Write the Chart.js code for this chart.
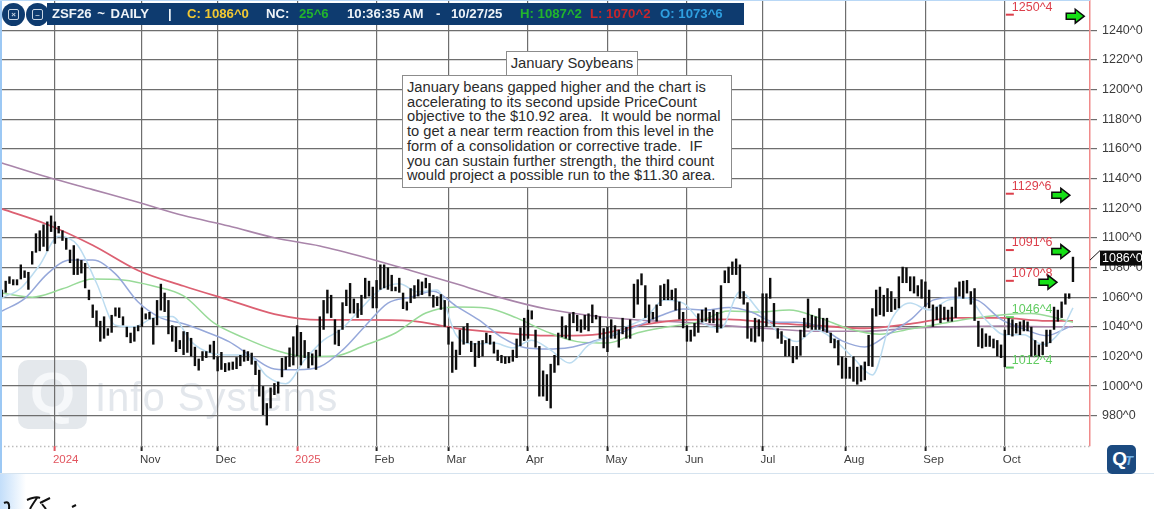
<!DOCTYPE html>
<html>
<head>
<meta charset="utf-8">
<title>January Soybeans</title>
<script src="https://cdn.jsdelivr.net/npm/chart.js@4"></script>
<style>
  html, body { margin: 0; padding: 0; background: #fff; overflow: hidden; }
  body { width: 1154px; height: 509px; position: relative; font-family: "Liberation Sans", Arial, sans-serif; }
  #page { position: absolute; left: 0; top: 0; width: 1154px; height: 509px; filter: blur(0.5px); }
  canvas { position: absolute; left: 0; top: 0; }
  .abs { position: absolute; white-space: nowrap; }
  /* frame of the pasted screenshot */
  #edgeL { left: 0; top: 0; width: 2px; height: 473px; background: #9cc8f4; }
  #edgeT { left: 0; top: 0; width: 1090px; height: 1px; background: #b9d8f6; }
  #edgeB { left: 0; top: 473px; width: 1154px; height: 1px; background: #d5e3ef; }
  #corner { left: 0; top: 474px; width: 26px; height: 35px; background: linear-gradient(90deg, #c3defa, #fff); }
  /* watermark sits behind the canvas */
  #wmBox { left: 18px; top: 360px; width: 69px; height: 69px; border-radius: 10px; background: #e4e8ec; color: #f6f8fa; font: bold 58px/66px "Liberation Sans"; text-align: center; }
  #wmText { left: 95px; top: 374px; font-size: 40px; line-height: 46px; color: #e3e7ec; letter-spacing: 1px; }
  /* header strip */
  #hdr { left: 47px; top: 3px; width: 697px; height: 22px; background: #0e3b6f; }
  #hdr span { position: absolute; top: 0; font: bold 13.2px/22px "Liberation Sans"; color: #eef3f8; white-space: nowrap; }
  .round { top: 3px; width: 23px; height: 23px; border-radius: 50%; background: #0e3b6f; }
  .round i { position: absolute; left: 6px; top: 6px; width: 9px; height: 9px; border: 1px solid #c9d6e4; border-radius: 2px; font: bold 8px/9px "Liberation Sans"; color: #c9d6e4; text-align: center; font-style: normal; }
  /* comment boxes */
  .note { background: #fff; border: 1.5px solid #8c8c8c; color: #2b2b2b; box-sizing: border-box; }
  #noteTitle { left: 506px; top: 51px; width: 132px; height: 25px; font-size: 14.8px; line-height: 22px; text-align: center; }
  #noteBody { left: 402px; top: 75px; width: 330px; height: 113px; font-size: 14.7px; line-height: 14.7px; padding: 4px 0 0 4px; }
  #qtLogo { left: 1107px; top: 445px; width: 29px; height: 29px; border-radius: 5px; background: #1b4a80; color: #fff; font: bold 19px/27px "Liberation Sans"; text-align: center; letter-spacing: -2px; }
  #qtLogo b { color: #6fb2e8; font-size: 13px; font-style: italic; }
</style>
</head>
<body>
<div id="page">
  <div class="abs" id="wmBox">Q</div>
  <div class="abs" id="wmText">Info Systems</div>
  <canvas id="chart" width="1154" height="473"></canvas>

  <div class="abs" id="edgeL"></div>
  <div class="abs" id="edgeT"></div>
  <div class="abs" id="edgeB"></div>
  <div class="abs" id="corner"></div>

  <div class="abs round" style="left:2px"><i>×</i></div>
  <div class="abs round" style="left:26px"><i>–</i></div>
  <div class="abs" id="hdr">
    <span style="left:5px;word-spacing:2px">ZSF26 ~ DAILY</span>
    <span style="left:121px">|</span>
    <span style="left:140px;color:#f2c832">C: 1086^0</span>
    <span style="left:219px">NC:</span>
    <span style="left:252px;color:#22b52c">25^6</span>
    <span style="left:300px">10:36:35 AM</span>
    <span style="left:389px">-</span>
    <span style="left:404px">10/27/25</span>
    <span style="left:473px;color:#22b52c">H: 1087^2</span>
    <span style="left:543px;color:#c8262c">L: 1070^2</span>
    <span style="left:613px;color:#2f9fe0">O: 1073^6</span>
  </div>

  <div class="abs note" id="noteTitle">January Soybeans</div>
  <div class="abs note" id="noteBody">January beans gapped higher and the chart is<br>accelerating to its second upside PriceCount<br>objective to the $10.92 area.&nbsp; It would be normal<br>to get a near term reaction from this level in the<br>form of a consolidation or corrective trade.&nbsp; IF<br>you can sustain further strength, the third count<br>would project a possible run to the $11.30 area.</div>

  <div class="abs" id="qtLogo">Q<b>T</b></div>

  <!-- cropped signature at the bottom edge -->
  <svg class="abs" style="left:0;top:495px" width="90" height="14" fill="none" stroke="#111" stroke-width="2">
    <path d="M4 8 Q10 5 9 14"/><path d="M27 5 Q36 1 40 3 M37 3 Q32 10 30 14 M40 8 Q44 6 50 3 M42 9 L46 14"/><path d="M72 12 L76 10"/>
  </svg>
</div>

<script>
// daily high / low, oldest bar first
const highs = [
  1065,1071,1074,1072,1072,1082,1078,1077,1091,1103,1105,1109,1111,1115,1111,1108,1105,1100,1092,1095,
  1086,1085,1083,1065,1055,1051,1044,1047,1039,1048,1053,1053,1047,1040,1036,1040,1041,1053,1049,1050,
  1046,1058,1069,1063,1058,1041,1040,1031,1037,1036.5,1032.5,1026.5,1018.5,1023.5,1023.5,1028,1030.5,1020,1023,1015.5,
  1016,1016.5,1019.5,1021,1024.5,1023.5,1022.5,1017,1011,1000,988.5,999,1002,1003,1019,1020,1026,1033.5,1041,1036.5,
  1031,1023,1022,1024.5,1047,1058,1065,1061.5,1045,1038,1056.5,1065,1069.5,1059,1056,1061.5,1073,1071,1067,1071.5,
  1082,1082,1080,1075,1067,1073,1063,1057,1066,1068,1072,1070.5,1073,1069.5,1061.5,1060.5,1062,1058,1040,1030,
  1024.5,1038,1040,1042.5,1030.5,1029,1030.5,1031,1036,1034.5,1030,1024.5,1021,1020,1020,1024.5,1032,1039.5,1046,1051.5,
  1051,1038,1027,1010.5,1008,1015,1021,1036,1047,1041,1049,1050,1048,1045,1048,1049,1055,1048,1047,1039,
  1040,1045,1041,1038,1046,1040,1045,1069,1072,1076,1068,1055,1050,1055,1068,1069,1072,1065,1066,1057,
  1050,1041,1038,1042.5,1049,1051.5,1053,1050,1051.5,1050,1068,1078,1080.5,1084,1086,1082,1064,1056.5,1039,1046,
  1045,1062.5,1062.5,1073,1056,1039,1037,1031,1032,1027,1027,1038,1046,1059,1048,1047,1052.5,1046,1046,1036,
  1032,1031,1020,1019,1013,1020,1013,1014,1016.5,1034.5,1052.5,1065,1067,1061.5,1066,1064,1059,1074,1080.5,1080,
  1074,1074,1068,1072,1070.5,1065,1055,1053.5,1055,1053.5,1051.5,1053.5,1066.5,1070.5,1071,1071.5,1064,1066,1044,1039,
  1035.5,1034,1032,1031,1028,1038,1046,1045,1042.5,1043.5,1044.5,1043.5,1040,1031,1028,1030,1038,1038,1053.5,1051.5,
  1057,1062.5,1062.5,1087.2
];
const lows = [
  1060,1063,1069,1068,1068,1072,1073,1065,1082,1090,1091,1094,1091,1104,1096,1103,1098,1092,1083,1075,
  1075,1076,1066,1058,1046,1040,1030,1032,1034,1036,1047,1046,1041,1033,1029,1030,1037,1040,1045,1045,
  1028,1041,1051,1050,1035,1030,1023,1025,1021,1022.5,1020,1013.5,1010.5,1017,1019,1022.5,1018,1010,1011,1009.5,
  1010.5,1011,1011.5,1013.5,1016.5,1017,1014.5,1007.5,993,980.5,973.5,985,994,995,1006,1011,1013,1014,1020,1014,
  1019,1012,1014,1011,1020,1038,1049,1046,1028,1027,1038,1054,1049,1049,1046,1048,1059,1060.5,1052.5,1052.5,
  1065,1066,1065,1064,1064,1063,1052,1051,1056,1059,1060.5,1061.5,1066,1060.5,1053,1054,1051.5,1040,1028,1009,
  1011,1021,1028,1029,1023,1013,1019,1020,1029,1028,1022,1017,1015.5,1015,1015.5,1016.5,1019,1027,1030.5,1032,
  1045,1026,993,993,990,985,1009,1014,1033,1032,1031,1042.5,1037,1036,1038,1037,1042.5,1045,1032,1025.5,
  1023,1032,1032,1026,1035,1032,1032,1046,1055,1068,1046,1042.5,1045,1043.5,1054,1058,1058,1058,1051,1045,
  1039,1030,1030,1033.5,1036,1043,1043.5,1042.5,1042.5,1036,1039,1069.5,1069.5,1075,1075,1059,1055,1032,1030,1029.5,
  1033.5,1030,1040,1059,1040,1032,1028.5,1020,1020,1015.5,1018,1020.5,1033,1039,1038,1038,1038,1037,1036,1029,
  1025.5,1014,1005,1005,1005,1003,1001,1003,1004,1013.5,1013,1047,1048,1047,1050,1050,1051.5,1052.5,1069.5,1069.5,
  1064,1062.5,1060.5,1059,1053.5,1052.5,1040,1044.5,1042.5,1044.5,1043.5,1043.5,1046,1060.5,1059,1062.5,1055,1044,1026.5,1025.5,
  1026.5,1026.5,1025.5,1020,1019,1012.8,1034.5,1033.5,1035.5,1034.5,1037,1037,1020,1020,1020,1021,1026.5,1029,1038,1043.5,
  1046,1055,1059,1070.2
];

// moving averages, one reading every few bars (the line joins the readings)
const slowStep = 12;
const maPurple = [1150.5,1141,1132.5,1124,1115,1108,1100,1094.5,1086.8,1078,1069,1059.5,1052,1047.5,1044.6,1043,1040.6,1038.5,1037,1037,1039,1040,1040.5,1040,1040];
const maRed = [1119.5,1109,1095,1078,1067.5,1058,1048.6,1044.6,1044.6,1044,1039,1036,1034,1034.6,1040.7,1044.6,1045,1042.5,1040.7,1039,1042,1046,1046,1044,1044];
const greenStep = 8;
const maGreen = [1062.8,1060,1065.6,1072.3,1071.6,1067.5,1060.8,1042.6,1032.5,1024.4,1020,1020.3,1027.7,1035.8,1049.3,1053.4,1052.7,1046,1036.6,1030,1029,1036,1040,1043.3,1050.7,1050,1051.3,1046,1038.5,1035,1038.5,1042,1045.6,1048,1049,1045,1043];
const blueStep = 6;
const maBlue = [1050.6,1059,1075.7,1085,1085,1075.7,1056.7,1046,1042,1036.5,1030,1020,1011.6,1011,1013,1024.3,1040.6,1056,1060,1064,1054,1044.6,1033,1026,1025,1026,1030,1034.6,1040.6,1047.4,1052,1051.4,1053,1050,1043.3,1043,1040,1030.5,1026.4,1034.6,1044.6,1058,1060,1057.6,1045,1038.6,1034,1040];
const lightStep = 5;
const maLight = [1059.5,1066,1081.7,1101,1095,1069.5,1041,1040,1046,1047,1030,1022.4,1021,1021,1006.7,1001.5,1017.7,1031,1039,1052.7,1065,1069,1063.5,1064.8,1034.5,1028.5,1029,1025.8,1031,1024.3,1015.6,1027.6,1033,1040,1046,1058,1056,1043,1039,1063.6,1051,1036.7,1030,1038,1031,1019,1007.5,1044.6,1056,1051.4,1058,1059.4,1044.6,1034.6,1034.6,1028,1038,1052.7];

// axis
const monthIdx = [14,37,57,78,99,118,139,160,181,201,223,244,265];
const monthLabels = ['2024','Nov','Dec','2025','Feb','Mar','Apr','May','Jun','Jul','Aug','Sep','Oct'];
const yearLabels = ['2024','2025'];
const priceTicks = [980,1000,1020,1040,1060,1080,1100,1120,1140,1160,1180,1200,1220,1240];
const emptySlots = 4;

// PriceCount objectives
const objValues = [1250.5,1129.75,1091.75,1071,1046.5,1012.5];
const objLabels = ['1250^4','1129^6','1091^6','1070^8','1046^4','1012^4'];
const objColors = ['#dc3f4b','#dc3f4b','#dc3f4b','#dc3f4b','#62cc62','#62cc62'];
// green arrows: value and bar slot
const arrowValues = [1250.5,1129.75,1091.75,1071];
const arrowSlots = [283.6,279.8,279.8,276.4];
const lastPrice = 1086;
const lastLabel = '1086^0';

const slotCount = highs.length + emptySlots;
const categories = new Array(slotCount).fill('');
monthIdx.forEach((idx, i) => { categories[idx] = monthLabels[i]; });

// put readings at their bar, last reading always goes on the last bar
function spread(values, step) {
  const out = new Array(highs.length).fill(null);
  values.forEach((v, i) => { out[Math.min(i * step, highs.length - 1)] = v; });
  return out;
}

function maDataset(values, step, color, width, order) {
  return {
    type: 'line',
    data: spread(values, step),
    borderColor: color,
    borderWidth: width,
    pointRadius: 0,
    spanGaps: true,
    cubicInterpolationMode: 'monotone',
    order: order
  };
}

function isYear(label) {
  return yearLabels.includes(label);
}

const overlays = {
  id: 'overlays',
  afterDraw(chart) {
    const ctx = chart.ctx;
    const x = chart.scales.x;
    const y = chart.scales.y;
    const area = chart.chartArea;

    // dotted base line
    ctx.save();
    ctx.strokeStyle = '#bdbdbd';
    ctx.lineWidth = 1.5;
    ctx.setLineDash([1.5, 2.5]);
    ctx.beginPath();
    ctx.moveTo(area.left, area.bottom + 0.5);
    ctx.lineTo(area.right, area.bottom + 0.5);
    ctx.stroke();
    ctx.setLineDash([]);

    // objective dash with label up and to the right
    const dashX = x.getPixelForValue(265);
    ctx.font = '12.5px "Liberation Sans"';
    ctx.textAlign = 'left';
    ctx.textBaseline = 'middle';
    objValues.forEach((v, i) => {
      const py = y.getPixelForValue(v);
      ctx.strokeStyle = objColors[i];
      ctx.lineWidth = 2;
      ctx.beginPath();
      ctx.moveTo(dashX + 1, py);
      ctx.lineTo(dashX + 9, py);
      ctx.stroke();
      ctx.fillStyle = objColors[i];
      ctx.fillText(objLabels[i], dashX + 7, py - 7.5);
    });

    // arrows
    arrowValues.forEach((v, i) => {
      const ax = x.getPixelForValue(arrowSlots[i]);
      const ay = y.getPixelForValue(v) + 1.5;
      ctx.beginPath();
      ctx.moveTo(ax - 9, ay - 3);
      ctx.lineTo(ax, ay - 3);
      ctx.lineTo(ax, ay - 7);
      ctx.lineTo(ax + 9, ay);
      ctx.lineTo(ax, ay + 7);
      ctx.lineTo(ax, ay + 3);
      ctx.lineTo(ax - 9, ay + 3);
      ctx.closePath();
      ctx.fillStyle = '#16e016';
      ctx.fill();
      ctx.strokeStyle = '#0b0b0b';
      ctx.lineWidth = 1.5;
      ctx.stroke();
    });

    // last price flag on the axis
    const py = y.getPixelForValue(lastPrice);
    ctx.strokeStyle = '#111';
    ctx.lineWidth = 1;
    ctx.beginPath();
    ctx.moveTo(area.right, py + 1.5);
    ctx.lineTo(area.right + 10, py - 8);
    ctx.stroke();
    ctx.fillStyle = '#0c0c0c';
    ctx.fillRect(area.right + 10, py - 8, 42, 15);
    ctx.fillStyle = '#fff';
    ctx.font = '12.5px "Liberation Sans"';
    ctx.fillText(lastLabel, area.right + 12, py);
    ctx.restore();
  }
};

new Chart(document.getElementById('chart'), {
  type: 'bar',
  data: {
    labels: categories,
    datasets: [
      {
        type: 'bar',
        data: highs.map((h, i) => [lows[i], h]),
        backgroundColor: '#0c0c0c',
        barThickness: 2.4,
        inflateAmount: 0,
        order: 0
      },
      maDataset(maLight, lightStep, '#bcdcf0', 1.5, 1),
      maDataset(maBlue, blueStep, '#96a8da', 1.5, 2),
      maDataset(maGreen, greenStep, '#98da98', 1.5, 3),
      maDataset(maRed, slowStep, '#dc6072', 1.8, 4),
      maDataset(maPurple, slowStep, '#a985aa', 1.6, 5)
    ]
  },
  options: {
    responsive: false,
    animation: false,
    events: [],
    layout: { padding: 0 },
    plugins: { legend: { display: false }, tooltip: { enabled: false } },
    scales: {
      x: {
        offset: true,
        afterFit(scale) { scale.height = 27; },
        afterBuildTicks(scale) { scale.ticks = monthIdx.map(v => ({ value: v })); },
        grid: {
          offset: false,
          color: '#6e6e6e',
          lineWidth: 1.2,
          tickLength: 5,
          tickWidth: 2,
          tickColor: ctx => isYear(monthLabels[ctx.index]) ? '#e2555f' : '#222'
        },
        border: { display: false },
        ticks: {
          autoSkip: false,
          maxRotation: 0,
          align: 'start',
          labelOffset: -2,
          padding: 2,
          font: { family: 'Liberation Sans', size: 11.5 },
          color: ctx => isYear(monthLabels[ctx.index]) ? '#e2555f' : '#3c3c3c',
          callback: (value, i) => monthLabels[i]
        }
      },
      y: {
        position: 'right',
        min: 959.6,
        max: 1260.4,
        afterFit(scale) {
          scale.width = 64;
          scale.paddingTop = 0;
          scale.paddingBottom = 0;
        },
        afterBuildTicks(scale) { scale.ticks = priceTicks.map(v => ({ value: v })); },
        grid: { color: '#6e6e6e', lineWidth: 1.2, tickLength: 7, tickColor: '#6e6e6e' },
        border: { display: true, color: '#f08a8a', width: 1.5 },
        ticks: {
          autoSkip: false,
          padding: 5,
          font: { family: 'Liberation Sans', size: 12.5 },
          color: '#3c3c3c',
          callback: v => v + '^0'
        }
      }
    }
  },
  plugins: [overlays]
});
</script>
</body>
</html>
